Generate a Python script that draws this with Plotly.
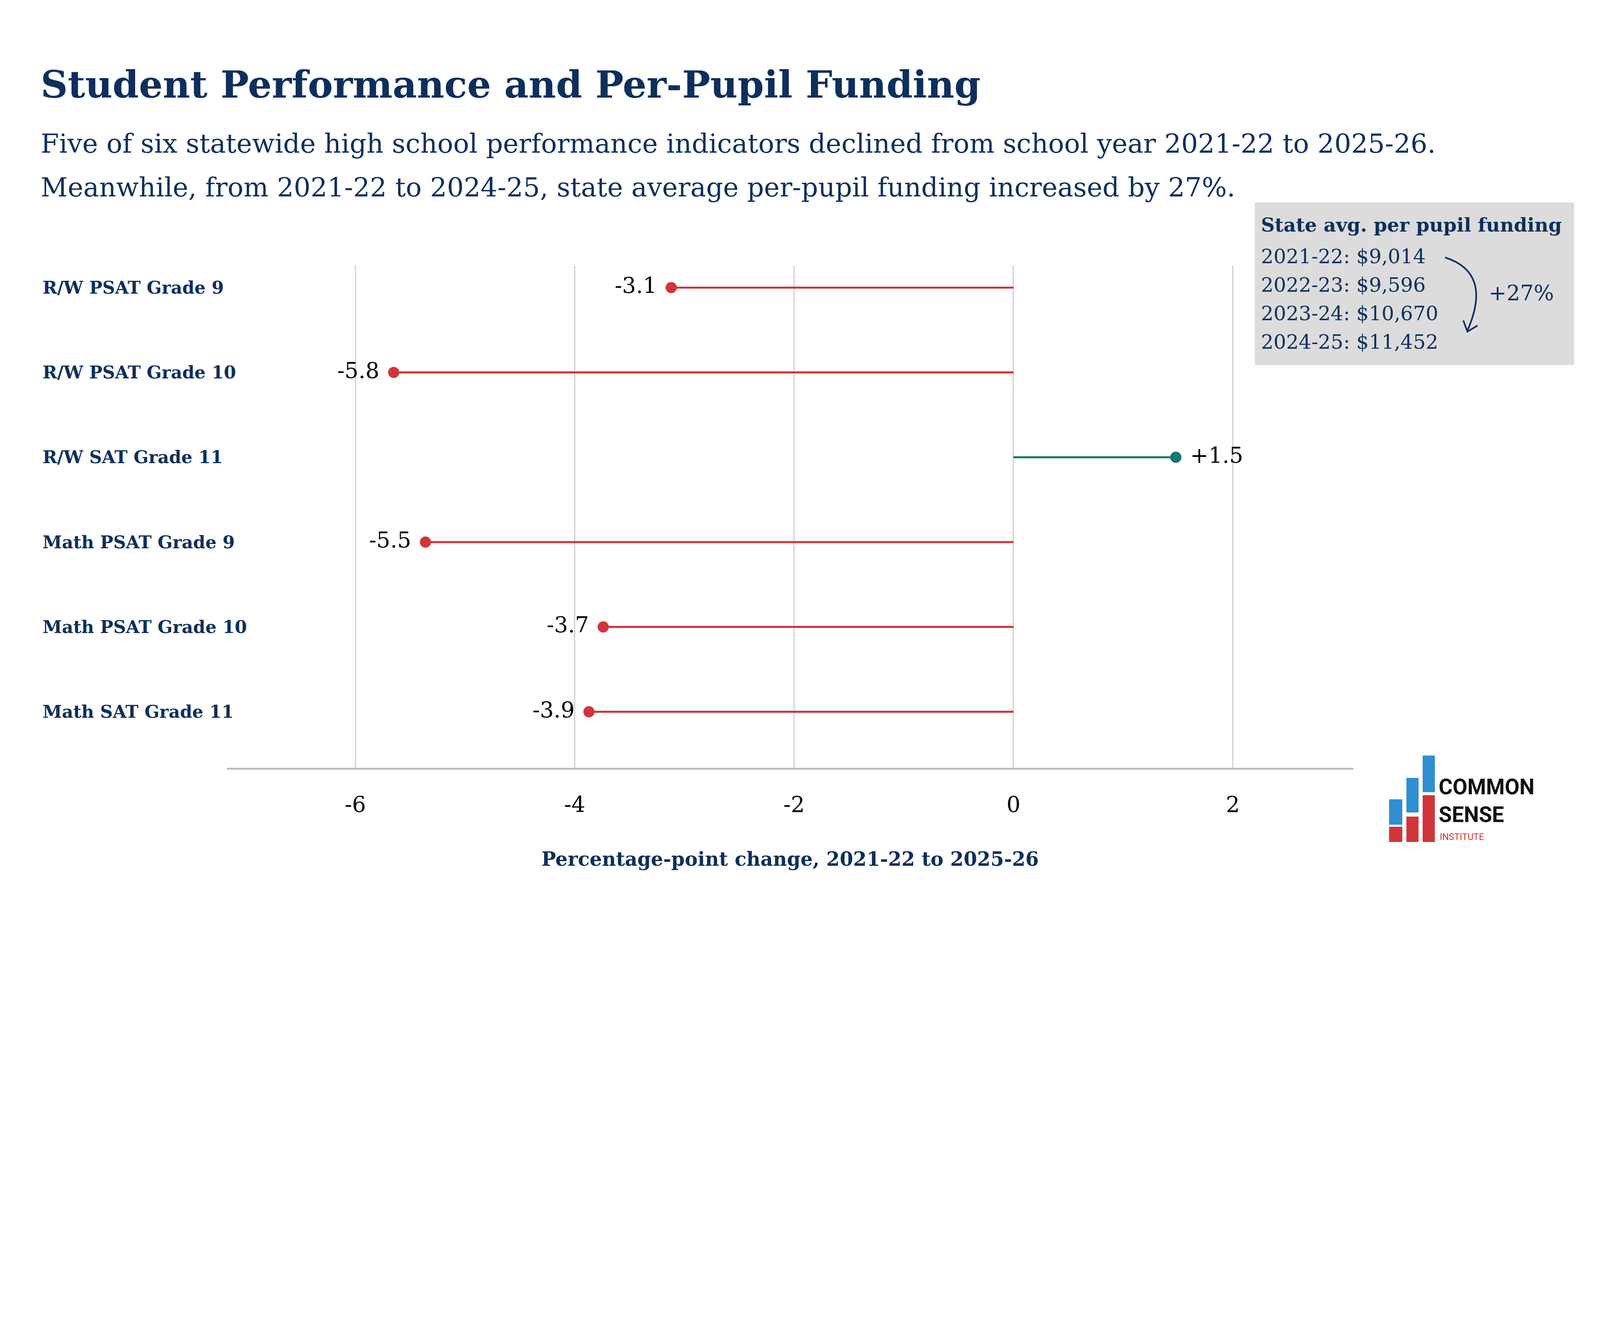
import plotly.graph_objects as go

indicators = ['R/W PSAT Grade 9', 'R/W PSAT Grade 10', 'R/W SAT Grade 11',
              'Math PSAT Grade 9', 'Math PSAT Grade 10', 'Math SAT Grade 11']
changes = [-3.12, -5.65, 1.48, -5.36, -3.74, -3.87]
change_labels = ['-3.1', '-5.8', '+1.5', '-5.5', '-3.7', '-3.9']
x_ticks = [-6, -4, -2, 0, 2]
funding_lines = ['2021-22: $9,014', '2022-23: $9,596', '2023-24: $10,670', '2024-25: $11,452']

W, H = 4082, 2296
S = W / 1568
NAVY = '#0e2f5c'
RED = '#d1343a'
GREEN = '#137a6b'
SERIF = 'DejaVu Serif'

# plot box in 1568-wide reference pixels
PL, PR, PT, PB = 220, 1328, 258, 752


def px(x):
    return (x - PL) / (PR - PL)


def py(y):
    return (PB - y) / (PB - PT)


fig = go.Figure()

for name, v, lab in zip(indicators, changes, change_labels):
    c = GREEN if v > 0 else RED
    fig.add_trace(go.Scatter(x=[0, v], y=[name, name], mode='lines',
                             line=dict(color=c, width=2 * S), showlegend=False, hoverinfo='skip'))
    fig.add_trace(go.Scatter(x=[v], y=[name], mode='markers+text',
                             text=[' ' + lab] if v > 0 else [lab + ' '],
                             textposition='middle right' if v > 0 else 'middle left',
                             textfont=dict(family=SERIF, size=21.5 * S, color='black'),
                             marker=dict(color=c, size=11 * S), showlegend=False))

annotations = []
for i, name in enumerate(indicators):
    annotations.append(dict(xref='paper', yref='y', x=px(38), y=name, text=f'<b>{name}</b>',
                             showarrow=False, xanchor='left',
                             font=dict(family=SERIF, size=17.2 * S, color=NAVY)))

annotations += [
    dict(xref='paper', yref='paper', x=px(36), y=py(80), text='<b>Student Performance and Per-Pupil Funding</b>',
         showarrow=False, xanchor='left', yanchor='middle', font=dict(family=SERIF, size=37 * S, color=NAVY)),
    dict(xref='paper', yref='paper', x=px(36), y=py(138),
         text='Five of six statewide high school performance indicators declined from school year 2021-22 to 2025-26.',
         showarrow=False, xanchor='left', yanchor='middle', font=dict(family=SERIF, size=26 * S, color=NAVY)),
    dict(xref='paper', yref='paper', x=px(36), y=py(181),
         text='Meanwhile, from 2021-22 to 2024-25, state average per-pupil funding increased by 27%.',
         showarrow=False, xanchor='left', yanchor='middle', font=dict(family=SERIF, size=26 * S, color=NAVY)),
    dict(xref='paper', yref='paper', x=0.5 * (px(PL) + px(PR)), y=py(842),
         text='<b>Percentage-point change, 2021-22 to 2025-26</b>',
         showarrow=False, yanchor='middle', font=dict(family=SERIF, size=19 * S, color=NAVY)),
    dict(xref='paper', yref='paper', x=px(1236), y=py(218), text='<b>State avg. per pupil funding</b>',
         showarrow=False, xanchor='left', yanchor='middle', font=dict(family=SERIF, size=18.8 * S, color=NAVY)),
    dict(xref='paper', yref='paper', x=px(1460), y=py(285), text='+27%',
         showarrow=False, xanchor='left', yanchor='middle', font=dict(family=SERIF, size=21 * S, color=NAVY)),
    dict(xref='paper', yref='paper', x=px(1411), y=py(771), text='<b>COMMON</b>',
         showarrow=False, xanchor='left', yanchor='middle', font=dict(family='Roboto', size=21 * S, color='#111')),
    dict(xref='paper', yref='paper', x=px(1411), y=py(798), text='<b>SENSE</b>',
         showarrow=False, xanchor='left', yanchor='middle', font=dict(family='Roboto', size=21 * S, color='#111')),
    dict(xref='paper', yref='paper', x=px(1412), y=py(820), text='INSTITUTE',
         showarrow=False, xanchor='left', yanchor='middle', font=dict(family='Roboto', size=9 * S, color=RED)),
]
for i, t in enumerate(funding_lines):
    annotations.append(dict(xref='paper', yref='paper', x=px(1236), y=py(249 + 28 * i), text=t,
                            showarrow=False, xanchor='left', yanchor='middle',
                            font=dict(family=SERIF, size=19.5 * S, color=NAVY)))

shapes = [
    dict(type='rect', xref='paper', yref='paper', x0=px(1231), x1=px(1545), y0=py(196), y1=py(356),
         fillcolor='#dcdcdc', line=dict(width=0), layer='below'),
    dict(type='path', xref='paper', yref='paper',
         path=f'M {px(1418)},{py(250)} Q {px(1465)},{py(265)} {px(1440)},{py(322)}',
         line=dict(color=NAVY, width=1.6 * S)),
    dict(type='path', xref='paper', yref='paper',
         path=f'M {px(1436)},{py(312)} L {px(1440)},{py(323)} L {px(1450)},{py(317)}',
         line=dict(color=NAVY, width=1.6 * S)),
]
logo_blue = [(1363, 783, 1376, 808), (1380, 762, 1392, 796), (1396, 740, 1408, 776)]
logo_red = [(1363, 810, 1376, 825), (1380, 800, 1392, 825), (1396, 779, 1408, 825)]
for x0, y0, x1, y1 in logo_blue:
    shapes.append(dict(type='rect', xref='paper', yref='paper', x0=px(x0), x1=px(x1), y0=py(y1), y1=py(y0),
                       fillcolor='#2f8fcf', line=dict(width=0)))
for x0, y0, x1, y1 in logo_red:
    shapes.append(dict(type='rect', xref='paper', yref='paper', x0=px(x0), x1=px(x1), y0=py(y1), y1=py(y0),
                       fillcolor=RED, line=dict(width=0)))

fig.update_layout(
    width=W, height=H,
    margin=dict(l=PL * S, r=(1568 - PR) * S, t=PT * S, b=(882 - PB) * S),
    paper_bgcolor='white', plot_bgcolor='white',
    xaxis=dict(range=[-7.17, 3.1], tickvals=x_ticks, ticktext=[str(v) for v in x_ticks],
               showgrid=True, gridcolor='#d9d9d9', gridwidth=1.5 * S, zeroline=False,
               showline=True, linecolor='#bdbdbd', linewidth=2 * S, ticks='', ticklen=0,
               tickfont=dict(family=SERIF, size=21.5 * S, color='black')),
    yaxis=dict(type='category', categoryorder='array', categoryarray=indicators,
               range=[5.66, -0.26], showticklabels=False, showgrid=False, zeroline=False),
    annotations=annotations, shapes=shapes,
)
fig.update_xaxes(ticklabelstandoff=int(16 * S))

fig.write_html('out.html')
